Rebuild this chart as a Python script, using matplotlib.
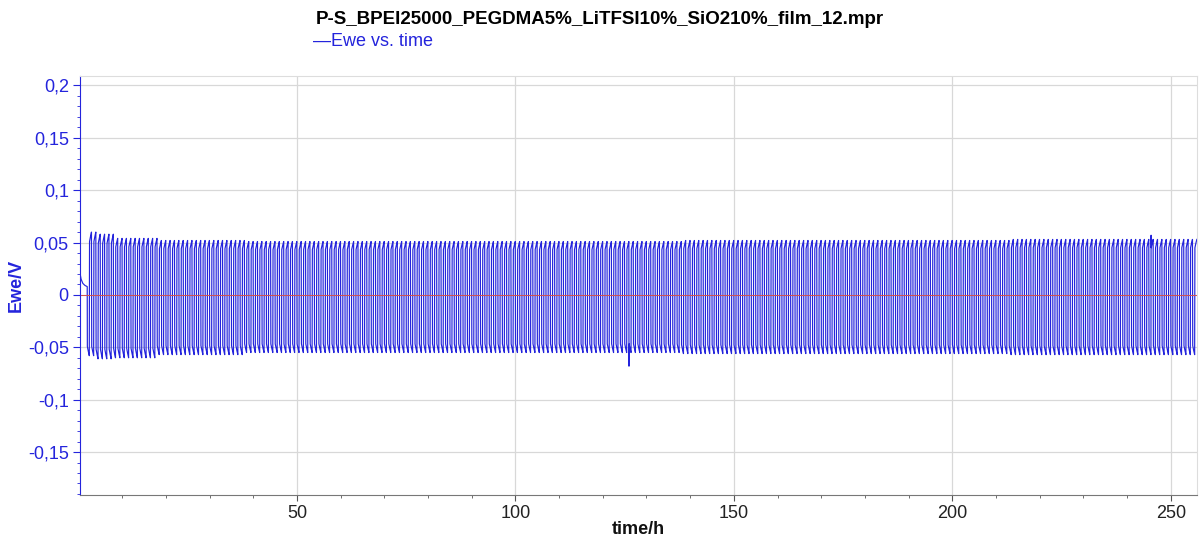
import numpy as np
import matplotlib.pyplot as plt
from matplotlib.ticker import MultipleLocator, FuncFormatter

plt.rcParams['font.family'] = ['Liberation Sans', 'DejaVu Sans']

# Rest period before cycling (time/h, Ewe/V)
rest_t = [0.34, 0.6, 1.0, 1.5, 2.0]
rest_v = [0.021, 0.015, 0.011, 0.009, 0.008]

# Cycling: 1 h per cycle (0.5 h each direction), read envelope at checkpoints
cycle_start = 2.0
half_cycle = 0.5
t_end = 256.0
env_t = [2, 5, 10, 25, 50, 75, 100, 125, 150, 175, 200, 225, 250]
env_hi = [0.060, 0.058, 0.054, 0.052, 0.051, 0.051, 0.051, 0.051, 0.052, 0.052, 0.052, 0.053, 0.053]
env_lo = [-0.058, -0.061, -0.060, -0.057, -0.055, -0.055, -0.055, -0.055, -0.056, -0.056, -0.056, -0.057, -0.057]

# Odd points seen on the trace
glitch_t = [126.0, 245.5]
glitch_v = [-0.068, 0.057]

blue = '#2424dc'
title = 'P-S_BPEI25000_PEGDMA5%_LiTFSI10%_SiO210%_film_12.mpr'


def nearest(ts, vals, t):
    i = int(np.argmin(np.abs(np.array(ts) - t)))
    return vals[i]


def build_trace():
    t = list(rest_t)
    v = list(rest_v)
    t0 = cycle_start
    sign = -1
    while t0 < t_end:
        peak = nearest(env_t, env_hi, t0) if sign > 0 else nearest(env_t, env_lo, t0)
        t1 = min(t0 + half_cycle, t_end)
        t += [t0 + 0.03, t0 + 0.5 * half_cycle, t1 - 0.03]
        v += [0.85 * peak, 0.93 * peak, peak]
        for gt, gv in zip(glitch_t, glitch_v):
            if t0 <= gt < t1:
                t.append(gt)
                v.append(gv)
                t.append(gt + 0.01)
                v.append(0.93 * peak)
        t0 = t1
        sign = -sign
    order = np.argsort(t, kind='stable')
    return np.array(t)[order], np.array(v)[order]


time_h, ewe = build_trace()

fig = plt.figure(figsize=(11.99, 5.43), dpi=100)
ax = fig.add_axes([0.0667, 0.0884, 0.9316, 0.7716])

ax.plot(time_h, ewe, color=blue, lw=0.85)
ax.axhline(0, color='#d05050', lw=0.7)

ax.set_xlim(0.34, 256)
ax.set_ylim(-0.191, 0.209)

ax.xaxis.set_major_locator(MultipleLocator(50))
ax.xaxis.set_minor_locator(MultipleLocator(10))
ax.yaxis.set_major_locator(MultipleLocator(0.05))
ax.yaxis.set_minor_locator(MultipleLocator(0.01))


def comma(x, pos):
    if abs(x) < 1e-9:
        return '0'
    return ('%g' % round(x, 3)).replace('.', ',')


ax.yaxis.set_major_formatter(FuncFormatter(comma))
ax.xaxis.set_major_formatter(FuncFormatter(lambda x, p: '%d' % x))

ax.grid(True, which='major', color='#d8d8d8', lw=0.9)
ax.set_axisbelow(True)

ax.tick_params(axis='y', which='both', colors=blue, labelsize=13, direction='out')
ax.tick_params(axis='y', which='major', length=5, pad=3)
ax.tick_params(axis='y', which='minor', length=2.5)
ax.tick_params(axis='x', which='both', colors='#555555', labelcolor='#222222', labelsize=13, direction='out')
ax.tick_params(axis='x', which='major', length=4, pad=3)
ax.tick_params(axis='x', which='minor', length=2.5)

ax.spines['left'].set_color(blue)
ax.spines['bottom'].set_color('#777777')
ax.spines['top'].set_color('#dddddd')
ax.spines['right'].set_color('#dddddd')

ax.set_xlabel('time/h', fontsize=13, fontweight='bold', color='#111111')
ax.xaxis.label.set_va('center')
ax.xaxis.set_label_coords(0.5, -0.0835)
ax.set_ylabel('Ewe/V', fontsize=13, fontweight='bold', color=blue, labelpad=2)

fig.text(0.5, 0.965, title, ha='center', va='center', fontsize=13.5, fontweight='bold')
fig.text(0.261, 0.924, '\u2014Ewe vs. time', ha='left', va='center', fontsize=13, color=blue)

plt.savefig('out.png', dpi=100)
